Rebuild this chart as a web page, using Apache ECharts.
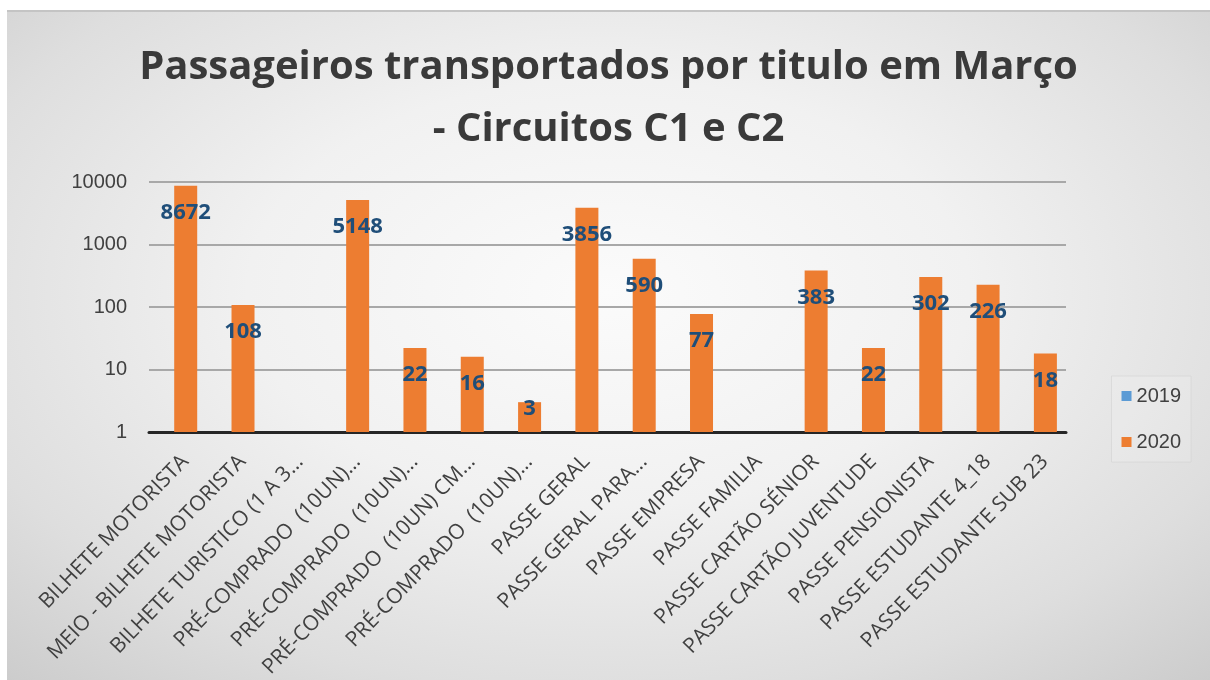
<!DOCTYPE html>
<html>
<head>
<meta charset="utf-8">
<script src="https://cdn.jsdelivr.net/npm/echarts@6/dist/echarts.min.js"></script>
<style>
html,body{margin:0;padding:0;background:#ffffff;width:1210px;height:680px;overflow:hidden;}
#wrap{position:absolute;left:7px;top:10px;width:1203px;height:670px;
  background:radial-gradient(ellipse 75% 80% at 50% 42%, #fbfbfb 0%, #f1f1f1 40%, #dedede 75%, #cbcbcb 100%);
  border-top:2px solid #c4c4c4;box-sizing:border-box;}
#chart{width:1203px;height:668px;}
</style>
</head>
<body>
<div id="wrap"><div id="chart"></div></div>
<script>
const titleText = 'Passageiros transportados por titulo em Março\n- Circuitos C1 e C2';
const categories = [
  'BILHETE MOTORISTA',
  'MEIO - BILHETE MOTORISTA',
  'BILHETE TURISTICO (1 A 3...',
  'PRÉ-COMPRADO  (10UN)...',
  'PRÉ-COMPRADO  (10UN)...',
  'PRÉ-COMPRADO  (10UN) CM...',
  'PRÉ-COMPRADO  (10UN)...',
  'PASSE GERAL',
  'PASSE GERAL PARA...',
  'PASSE EMPRESA',
  'PASSE FAMILIA',
  'PASSE CARTÃO SÉNIOR',
  'PASSE CARTÃO JUVENTUDE',
  'PASSE PENSIONISTA',
  'PASSE ESTUDANTE 4_18',
  'PASSE ESTUDANTE SUB 23'
];
const seriesNames = ['2019', '2020'];
const values2019 = [null, null, null, null, null, null, null, null, null, null, null, null, null, null, null, null];
const values2020 = [8672, 108, null, 5148, 22, 16, 3, 3856, 590, 77, null, 383, 22, 302, 226, 18];
const yTicks = [1, 10, 100, 1000, 10000];

const data2020 = values2020.map(v => {
  if (v !== null && v < 5) {
    return { value: v, label: { distance: -4 } };
  }
  return v;
});

const chart = echarts.init(document.getElementById('chart'), null, { renderer: 'canvas' });
chart.setOption({
  backgroundColor: 'transparent',
  animation: false,
  title: {
    text: titleText,
    left: 'center',
    top: 20,
    textStyle: {
      fontFamily: 'Open Sans',
      fontWeight: 700,
      fontSize: 40,
      lineHeight: 62,
      color: '#3a3a3a'
    }
  },
  legend: {
    orient: 'vertical',
    right: 19,
    top: 364,
    itemWidth: 10,
    itemHeight: 10,
    itemGap: 26,
    icon: 'rect',
    padding: [10, 10, 10, 10],
    backgroundColor: 'rgba(255,255,255,0.15)',
    borderColor: 'rgba(210,210,210,0.6)',
    borderWidth: 1,
    textStyle: { fontFamily: 'Liberation Sans', fontSize: 20, color: '#404040' },
    data: seriesNames
  },
  grid: { left: 142, right: 144, top: 170, bottom: 248, containLabel: false, outerBoundsMode: 'none' },
  xAxis: {
    type: 'category',
    data: categories,
    axisLine: { show: true, lineStyle: { color: '#262626', width: 3 } },
    axisTick: { show: false },
    axisLabel: {
      interval: 0,
      rotate: 46,
      margin: 19,
      verticalAlign: 'top',
      fontFamily: 'Open Sans',
      fontSize: 21,
      color: '#404040'
    }
  },
  yAxis: {
    type: 'log',
    logBase: 10,
    min: yTicks[0],
    max: yTicks[yTicks.length - 1],
    axisLine: { show: false },
    axisTick: { show: false },
    splitLine: { show: true, lineStyle: { color: '#a8a8a8', width: 2 } },
    axisLabel: {
      margin: 22,
      fontFamily: 'Liberation Sans',
      fontSize: 20,
      color: '#404040',
      formatter: v => String(Math.round(v))
    }
  },
  series: [
    {
      name: seriesNames[0],
      type: 'bar',
      data: values2019,
      barWidth: 23,
      barGap: '-30%',
      itemStyle: { color: '#5B9BD5' }
    },
    {
      name: seriesNames[1],
      type: 'bar',
      data: data2020,
      barWidth: 23,
      barGap: '-30%',
      itemStyle: { color: '#ED7D31' },
      label: {
        show: true,
        position: 'insideTop',
        distance: 16,
        fontFamily: 'Open Sans',
        fontWeight: 700,
        fontSize: 22,
        color: '#1F4E79'
      }
    }
  ]
});
</script>
</body>
</html>
